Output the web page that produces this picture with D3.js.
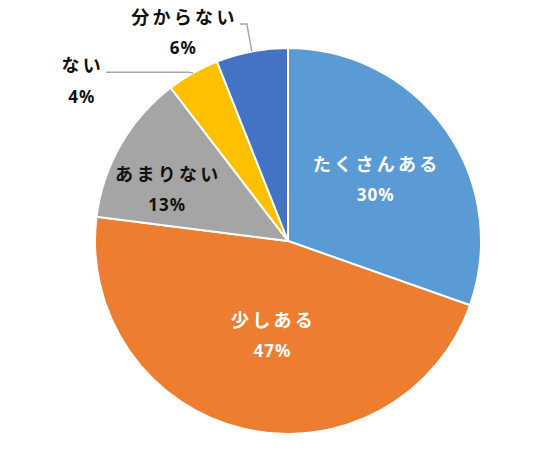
<!DOCTYPE html>
<html>
<head>
<meta charset="utf-8">
<script src="https://cdn.jsdelivr.net/npm/d3@7"></script>
<style>
  body { margin: 0; background: #fff; }
  .name { font-family: "Noto Sans CJK JP", sans-serif; font-weight: 700; font-size: 18px; letter-spacing: 3.3px; }
  .pct { font-family: "Noto Sans", sans-serif; font-weight: 700; font-size: 17px; letter-spacing: 1px; }
</style>
</head>
<body>
<script>
// data
var categories = ["たくさんある", "少しある", "あまりない", "ない", "分からない"];
var values = [30.4, 46.6, 12.6, 4.4, 6.0];
var colors = ["#5B9BD5", "#ED7D31", "#A5A5A5", "#FFC000", "#4472C4"];

var svgWidth = 549;
var svgHeight = 463;
var cx = 288, cy = 241, radius = 193;

// label layout: radius from centre, angle nudge (deg), text colour, outside?
var labelLayout = [
  { r: 107, da: -0.2, fill: "#fff", outside: false },
  { r: 95, da: -3.6, fill: "#fff", outside: false },
  { r: 132, da: -6.6, fill: "#111", outside: false },
  { r: 262, da: -22.6, fill: "#111", outside: true },
  { r: 234, da: -15.9, fill: "#111", outside: true }
];

var svg = d3.select("body")
  .append("svg")
  .attr("width", svgWidth)
  .attr("height", svgHeight);

var chart = svg.append("g")
  .attr("transform", "translate(" + cx + "," + cy + ")");

var pie = d3.pie().sort(null).value(function(d) { return d; });
var arcs = pie(values);

var arc = d3.arc().innerRadius(0).outerRadius(radius);

chart.selectAll("path.slice")
  .data(arcs)
  .enter()
  .append("path")
  .attr("class", "slice")
  .attr("d", arc)
  .attr("fill", function(d, i) { return colors[i]; })
  .attr("stroke", "#fff")
  .attr("stroke-width", 2)
  .attr("stroke-linejoin", "round");

function polar(angle, r) {
  return [Math.sin(angle) * r, -Math.cos(angle) * r];
}

var total = d3.sum(values);

arcs.forEach(function(d, i) {
  var lay = labelLayout[i];
  var mid = (d.startAngle + d.endAngle) / 2;
  var p = polar(mid + lay.da * Math.PI / 180, lay.r);

  var name = chart.append("text")
    .attr("class", "name")
    .attr("x", p[0])
    .attr("y", p[1] - 16)
    .attr("dx", 1.6)
    .attr("text-anchor", "middle")
    .attr("dominant-baseline", "central")
    .attr("fill", lay.fill)
    .text(categories[i]);

  chart.append("text")
    .attr("class", "pct")
    .attr("x", p[0])
    .attr("y", p[1] + 16)
    .attr("dx", 0.5)
    .attr("text-anchor", "middle")
    .attr("dominant-baseline", "central")
    .attr("fill", lay.fill)
    .text(Math.round(d.value / total * 100) + "%");

  if (lay.outside) {
    // leader line: slice edge -> elbow -> label
    var edge = polar(mid, radius);
    var box = name.node().getBBox();
    var ly = p[1] - 16 + 8;
    var line = [edge, [edge[0] - 5, ly], [box.x + box.width + 2, ly]];
    chart.append("path")
      .attr("d", d3.line()(line))
      .attr("fill", "none")
      .attr("stroke", "#A6A6A6")
      .attr("stroke-width", 1.5);
  }
});
</script>
</body>
</html>
